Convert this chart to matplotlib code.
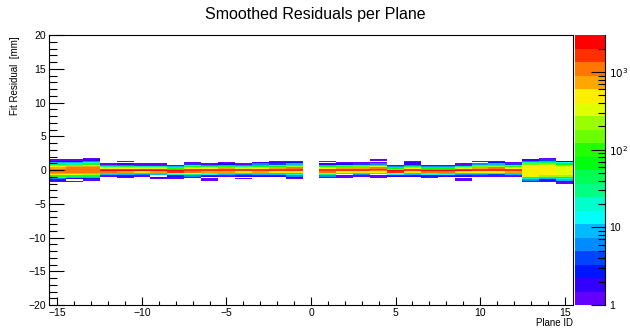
import colorsys
import numpy as np
import matplotlib
matplotlib.use("Agg")
import matplotlib.pyplot as plt
from matplotlib.colors import ListedColormap, BoundaryNorm
from matplotlib.ticker import MultipleLocator, FixedLocator, NullFormatter

plt.rcParams['font.family'] = ['Liberation Sans', 'DejaVu Sans']

# planes -15 .. 15, residual bins of 0.2 mm from -2.0 to 2.0 (rest of the range is empty)
plane_ids = list(range(-15, 16))
profile_lo, profile_step = -2.0, 0.2
counts_by_plane = [
    [0, 1, 2, 5, 20, 100, 500, 900, 1100, 1500, 1100, 900, 600, 200, 40, 10, 3, 1, 0, 0],     # -15
    [0, 1, 0, 2, 8, 40, 300, 900, 1200, 1300, 1300, 1100, 700, 150, 30, 8, 3, 1, 0, 0],       # -14
    [0, 0, 1, 3, 10, 40, 200, 700, 1100, 1300, 1300, 1200, 900, 400, 100, 20, 5, 2, 1, 0],    # -13
    [0, 0, 0, 0, 0, 1, 10, 100, 1000, 2500, 1500, 400, 30, 5, 1, 0, 0, 0, 0, 0],              # -12
    [0, 0, 0, 0, 1, 2, 8, 60, 700, 2500, 2000, 500, 40, 6, 2, 0, 1, 0, 0, 0],                 # -11
    [0, 0, 0, 0, 0, 1, 6, 50, 600, 2500, 2000, 400, 30, 4, 1, 0, 0, 0, 0, 0],                 # -10
    [0, 0, 0, 1, 2, 0, 10, 80, 800, 2500, 1800, 300, 25, 4, 1, 0, 0, 0, 0, 0],                # -9
    [0, 0, 0, 1, 1, 3, 20, 200, 1500, 2500, 1200, 100, 8, 1, 0, 0, 0, 0, 0, 0],               # -8
    [0, 0, 0, 0, 1, 5, 30, 300, 1200, 1500, 1500, 600, 80, 15, 4, 1, 0, 0, 0, 0],             # -7
    [0, 0, 1, 1, 0, 2, 15, 150, 800, 1500, 1500, 500, 40, 5, 1, 0, 0, 0, 0, 0],               # -6
    [0, 0, 0, 0, 0, 1, 10, 100, 900, 1800, 1800, 700, 100, 10, 3, 1, 0, 0, 0, 0],             # -5
    [0, 0, 0, 1, 0, 2, 6, 50, 500, 2000, 2000, 400, 30, 5, 1, 0, 0, 0, 0, 0],                 # -4
    [0, 0, 0, 0, 0, 2, 8, 60, 700, 1800, 1800, 600, 60, 10, 5, 2, 0, 0, 0, 0],                # -3
    [0, 0, 0, 0, 0, 2, 8, 60, 600, 1600, 1800, 700, 80, 12, 4, 2, 1, 0, 0, 0],                # -2
    [0, 0, 0, 1, 3, 6, 20, 80, 500, 1500, 1800, 1000, 200, 30, 8, 3, 1, 0, 0, 0],             # -1
    [0] * 20,                                                                                 # 0
    [0, 0, 0, 0, 1, 5, 25, 200, 1000, 1800, 1500, 500, 60, 8, 2, 0, 1, 0, 0, 0],              # 1
    [0, 0, 0, 0, 1, 1, 0, 30, 300, 1500, 2000, 800, 100, 15, 3, 1, 0, 0, 0, 0],               # 2
    [0, 0, 0, 0, 0, 1, 6, 50, 500, 1500, 1800, 900, 150, 20, 4, 1, 0, 0, 0, 0],               # 3
    [0, 0, 0, 0, 1, 1, 0, 30, 300, 1200, 1800, 1200, 300, 30, 5, 1, 0, 1, 0, 0],              # 4
    [0, 0, 0, 0, 0, 2, 15, 200, 1500, 2500, 800, 60, 5, 1, 0, 0, 0, 0, 0, 0],                 # 5
    [0, 0, 0, 0, 0, 2, 8, 60, 600, 1800, 1800, 500, 40, 6, 2, 2, 1, 0, 0, 0],                 # 6
    [0, 0, 0, 0, 1, 3, 15, 150, 1200, 2500, 1000, 80, 5, 1, 0, 0, 0, 0, 0, 0],                # 7
    [0, 0, 0, 0, 0, 2, 12, 120, 1000, 2500, 1000, 80, 5, 1, 0, 0, 0, 0, 0, 0],                # 8
    [0, 0, 1, 1, 0, 2, 6, 50, 600, 2200, 1800, 400, 30, 4, 1, 0, 0, 0, 0, 0],                 # 9
    [0, 0, 0, 0, 0, 1, 6, 40, 400, 1500, 2000, 900, 150, 20, 5, 0, 1, 0, 0, 0],               # 10
    [0, 0, 0, 0, 0, 1, 4, 30, 300, 1500, 2000, 1000, 200, 30, 10, 3, 1, 0, 0, 0],             # 11
    [0, 0, 0, 0, 0, 1, 8, 80, 800, 2000, 1500, 600, 100, 15, 4, 1, 0, 0, 0, 0],               # 12
    [0, 1, 5, 20, 100, 300, 450, 520, 560, 580, 580, 560, 520, 420, 150, 30, 6, 2, 0, 0],     # 13
    [0, 1, 3, 10, 50, 200, 430, 520, 560, 590, 590, 560, 520, 440, 200, 40, 10, 4, 1, 0],     # 14
    [1, 3, 8, 20, 80, 200, 300, 350, 400, 400, 400, 350, 300, 200, 60, 15, 3, 0, 0, 0],       # 15
]
z_max = 3000.0

# ROOT-like "pretty" palette with 20 contour levels
n_levels = 20
colors = []
for j in range(n_levels):
    idx = int((j + 0.99) * 50 / n_levels)
    hue = 280 - (idx + 1) * 5.6
    colors.append(colorsys.hsv_to_rgb(hue / 360.0, 1.0, 1.0))
cmap = ListedColormap(colors)
levels = np.logspace(0, np.log10(z_max), n_levels + 1)
norm = BoundaryNorm(levels, n_levels)

# full histogram grid
x_edges = np.arange(plane_ids[0] - 0.5, plane_ids[-1] + 1.0, 1.0)
y_edges = np.linspace(-20, 20, 201)
H = np.zeros((len(y_edges) - 1, len(plane_ids)))
start = int(round((profile_lo - y_edges[0]) / profile_step))
for k, prof in enumerate(counts_by_plane):
    H[start:start + len(prof), k] = prof
H = np.ma.masked_where(H <= 0, H)

fig = plt.figure(figsize=(6.3, 3.28), dpi=100)
W, Hh = 630.0, 328.0
ax = fig.add_axes([49 / W, 1 - 305 / Hh, 524 / W, 270 / Hh])
cax = fig.add_axes([575 / W, 1 - 305 / Hh, 30 / W, 270 / Hh])

ax.pcolormesh(x_edges, y_edges, H, cmap=cmap, norm=norm)
ax.set_xlim(-15.5, 15.5)
ax.set_ylim(-20, 20)
ax.xaxis.set_major_locator(MultipleLocator(5))
ax.xaxis.set_minor_locator(MultipleLocator(1))
ax.yaxis.set_major_locator(MultipleLocator(5))
ax.yaxis.set_minor_locator(MultipleLocator(1))
ax.tick_params(axis='x', which='major', direction='in', length=6, width=0.8, labelsize=7.5, pad=2)
ax.tick_params(axis='x', which='minor', direction='in', length=3, width=0.8)
ax.tick_params(axis='y', which='major', direction='in', length=11, width=0.8, labelsize=7.5, pad=2)
ax.tick_params(axis='y', which='minor', direction='in', length=5.5, width=0.8)
for s in ax.spines.values():
    s.set_linewidth(0.8)

fig.text(573 / W, 1 - 323 / Hh, "Plane ID", ha='right', va='center', fontsize=7)
fig.text(15 / W, 1 - 36 / Hh, "Fit Residual  [mm]", ha='center', va='top',
         rotation=90, fontsize=7)
fig.text(0.5, 1 - 14 / Hh, "Smoothed Residuals per Plane", ha='center', va='center', fontsize=11.5)

# palette axis
for j in range(n_levels):
    cax.axhspan(levels[j], levels[j + 1], color=colors[j], lw=0)
cax.set_yscale('log')
cax.set_ylim(1, z_max)
cax.set_xlim(0, 1)
cax.set_xticks([])
cax.yaxis.tick_right()
cax.yaxis.set_major_locator(FixedLocator([1, 10, 100, 1000]))
cax.set_yticklabels(["1", "10", r"$10^{2}$", r"$10^{3}$"])
minors = [m * 10 ** d for d in range(0, 4) for m in range(2, 10) if m * 10 ** d < z_max]
cax.yaxis.set_minor_locator(FixedLocator(minors))
cax.yaxis.set_minor_formatter(NullFormatter())
cax.tick_params(axis='y', which='major', direction='in', length=10, width=0.8, labelsize=7.5, pad=3)
cax.tick_params(axis='y', which='minor', direction='in', length=5, width=0.8)
for side, s in cax.spines.items():
    s.set_visible(side == 'right')
    s.set_linewidth(0.8)

fig.savefig("out.png", dpi=100)
